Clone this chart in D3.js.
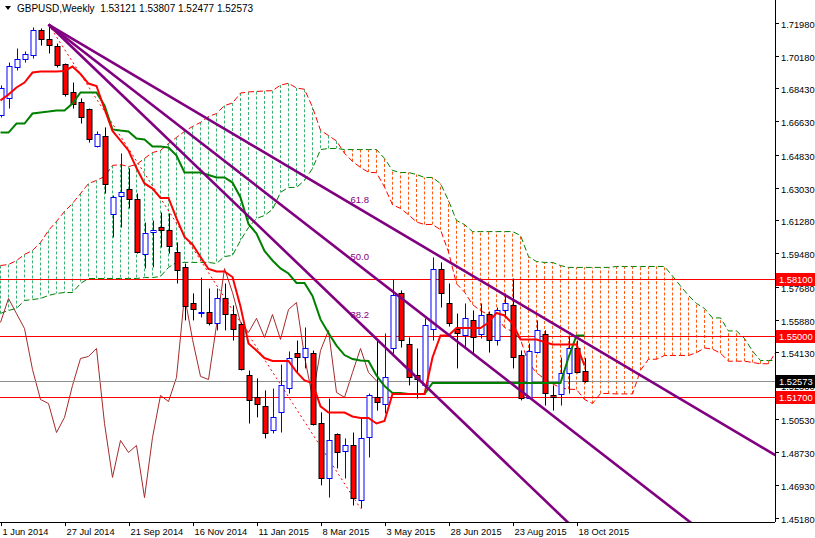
<!DOCTYPE html>
<html><head><meta charset="utf-8">
<script src="https://cdn.jsdelivr.net/npm/d3@7"></script>
<style>body{margin:0;background:#fff}svg{display:block}</style>
</head><body>
<script>
// ---------- DATA ----------
const startDate = "2014-06-01"; // bar 0, weekly bars
const opens  = [1.6695,1.6792,1.6960,1.7003,1.7019,1.7160,1.7111,1.7073,1.6971,1.6824,1.6770,1.6727,1.6532,1.6581,1.6159,1.6256,1.6299,1.6245,1.5947,1.6066,1.6093,1.6077,1.5958,1.5872,1.5677,1.5628,1.5633,1.5568,1.5709,1.5622,1.5563,1.5292,1.5173,1.5124,1.4989,1.5087,1.5216,1.5411,1.5384,1.5411,1.5032,1.4729,1.4968,1.4875,1.4913,1.4616,1.4951,1.5173,1.5130,1.5433,1.5736,1.5460,1.5287,1.5233,1.5541,1.5866,1.5682,1.5541,1.5503,1.5585,1.5514,1.5622,1.5482,1.5644,1.5671,1.5400,1.5168,1.5411,1.5514,1.5179,1.5189,1.5298,1.5433,1.53121];
const highs  = [1.6857,1.6981,1.7057,1.7041,1.7171,1.7166,1.7187,1.7084,1.6976,1.6873,1.6787,1.6732,1.6608,1.6630,1.6261,1.6489,1.6408,1.6272,1.6115,1.6126,1.6169,1.6164,1.6007,1.5893,1.5731,1.5817,1.5758,1.5758,1.5785,1.5666,1.5574,1.5314,1.5271,1.5206,1.5216,1.5346,1.5417,1.5476,1.5547,1.5422,1.5087,1.5162,1.4973,1.4946,1.4978,1.5054,1.5189,1.5487,1.5514,1.5807,1.5747,1.5493,1.5433,1.5596,1.5926,1.5899,1.5785,1.5622,1.5677,1.5639,1.5677,1.5633,1.5655,1.5731,1.5812,1.5422,1.5460,1.5585,1.5531,1.5233,1.5384,1.5503,1.5476,1.53807];
const lows   = [1.6684,1.6732,1.6938,1.6981,1.7003,1.7073,1.7030,1.6954,1.6797,1.6732,1.6651,1.6548,1.6521,1.6272,1.6034,1.6088,1.6191,1.5947,1.5866,1.5872,1.5980,1.5947,1.5785,1.5585,1.5585,1.5601,1.5558,1.5531,1.5531,1.5476,1.5314,1.5027,1.5060,1.4946,1.4973,1.4978,1.5189,1.5303,1.5325,1.5016,1.4692,1.4626,1.4784,1.4729,1.4583,1.4567,1.4843,1.5097,1.5081,1.5395,1.5438,1.5233,1.5162,1.5222,1.5476,1.5655,1.5552,1.5325,1.5438,1.5406,1.5487,1.5411,1.5449,1.5596,1.5325,1.5152,1.5162,1.5406,1.5124,1.5097,1.5124,1.5189,1.5298,1.52477];
const closes = [1.6841,1.6965,1.7003,1.7030,1.7155,1.7111,1.7079,1.6971,1.6808,1.6759,1.6689,1.6565,1.6597,1.6321,1.6251,1.6278,1.6245,1.5958,1.6061,1.6077,1.6077,1.5991,1.5861,1.5661,1.5644,1.5633,1.5574,1.5704,1.5622,1.5541,1.5319,1.5157,1.5135,1.4978,1.5060,1.5233,1.5379,1.5390,1.5433,1.5027,1.4735,1.4935,1.4870,1.4908,1.4626,1.4951,1.5179,1.5146,1.5276,1.5720,1.5482,1.5282,1.5265,1.5558,1.5866,1.5736,1.5574,1.5520,1.5596,1.5493,1.5617,1.5482,1.5644,1.5682,1.5390,1.5168,1.5422,1.5531,1.5195,1.5168,1.5303,1.5433,1.5303,1.52573];
const tenkanEarly = [1.6776,1.6808,1.6846,1.6873,1.6927,1.6933,1.6933,1.6933];
const kijunEarly  = [1.6602,1.6602,1.6651,1.6651,1.6705,1.6711,1.6716,1.6722,1.6722,1.6759,1.6819,1.6819,1.6819,1.6749,1.6619,1.6613,1.6608,1.6570,1.6565,1.6527,1.6527,1.6521,1.6478,1.6386,1.6386];
const spanAEarly  = [1.5882,1.5888,1.5909,1.5942,1.5964,1.6007,1.6072,1.6121,1.6175,1.6218,1.6272,1.6326,1.6343,1.6364,1.6424,1.6429,1.6418,1.6429,1.6462,1.6494,1.6505,1.6543,1.6576,1.6608,1.6635,1.6657];
const spanBEarly  = [1.5623,1.5639,1.5650,1.5693,1.5698,1.5704,1.5720,1.5731,1.5736,1.5736,1.5785,1.5812,1.5812,1.5812,1.5812,1.5812,1.5812,1.5812,1.5817,1.5817,1.5823,1.5872,1.5899,1.5899,1.5899,1.5899,1.5899,1.5893,1.5931,1.5937,1.6018,1.6088,1.6137,1.6153,1.6186,1.6278,1.6305,1.6305,1.6343,1.6408,1.6510,1.6516,1.6516,1.6510,1.6510,1.6510,1.6510,1.6510,1.6462,1.6397,1.6386,1.6386,1.6375,1.6359,1.6359,1.6326,1.6234,1.6126,1.6104,1.6066,1.6066,1.6066,1.6066,1.6066,1.6066,1.6045,1.5931,1.5904,1.5899,1.5899,1.5882,1.5872,1.5872,1.5872,1.5872,1.5872,1.5872];
const priceTicks = ["1.71980","1.70180","1.68430","1.66630","1.64830","1.63030","1.61280","1.59480","1.57680","1.55880","1.54130","1.52330","1.50530","1.48730","1.46930","1.45180"];
const dateLabels = ["1 Jun 2014","27 Jul 2014","21 Sep 2014","16 Nov 2014","11 Jan 2015","8 Mar 2015","3 May 2015","28 Jun 2015","23 Aug 2015","18 Oct 2015"];
const dateBars = [0,8,16,24,32,40,48,56,64,72];
const hLines = [{p:1.5810,label:"1.58100"},{p:1.5500,label:"1.55000"},{p:1.5170,label:"1.51700"}];
const lastPrice = 1.52573;
const fanLevels = [38.2, 50.0, 61.8];
const fanStart = {bar:6, price:1.7187};
const fanEnd = {bar:45, price:1.4567};
const title = "GBPUSD,Weekly  1.53121 1.53807 1.52477 1.52573";

// ---------- LAYOUT ----------
const W=815,H=538, plotR=775, plotB=522;
const FONT="'Liberation Sans', Arial, sans-serif";
const x = d3.scaleLinear().domain([0,1]).range([0.5,8.5]);
const y = d3.scaleLinear().domain([1.4518,1.7198]).range([517.5,22.5]);
const svg = d3.select("body").append("svg").attr("width",W).attr("height",H).style("font-family",FONT);
svg.append("defs").append("clipPath").attr("id","c").append("rect").attr("x",0).attr("y",0).attr("width",plotR).attr("height",plotB);
const g = svg.append("g").attr("clip-path","url(#c)");

const N = closes.length;
const hh=(a,b)=>d3.max(highs.slice(Math.max(0,a),b+1)), ll=(a,b)=>d3.min(lows.slice(Math.max(0,a),b+1));
const tenkan = d3.range(N).map(i=> i<tenkanEarly.length? tenkanEarly[i] : (hh(i-8,i)+ll(i-8,i))/2);
const kijun  = d3.range(N).map(i=> i<kijunEarly.length? kijunEarly[i] : (hh(i-25,i)+ll(i-25,i))/2);
const spanA=[], spanB=[];
for(let b=0;b<N+26;b++){
  spanA[b] = b<26 ? spanAEarly[b] : (tenkan[b-26]+kijun[b-26])/2;
  spanB[b] = b<spanBEarly.length ? spanBEarly[b] : (hh(b-26-51,b-26)+ll(b-26-51,b-26))/2;
}
for(let b=0;b<N+26;b++){
  const a=spanA[b], bb=spanB[b];
  g.append("line").attr("x1",x(b)).attr("x2",x(b)).attr("y1",y(a)).attr("y2",y(bb))
   .attr("stroke", a>=bb? "#3cb371":"#ff5a14").attr("stroke-width",1).attr("stroke-dasharray","3,2");
}
const ln = d3.line().x((d,i)=>x(i)).y(d=>y(d));
g.append("path").attr("d",ln(spanA)).attr("fill","none").attr("stroke","#ff0000").attr("stroke-width",1).attr("stroke-dasharray","6,3");
g.append("path").attr("d",ln(spanB)).attr("fill","none").attr("stroke","#008000").attr("stroke-width",1).attr("stroke-dasharray","6,3");
g.append("path").attr("d",ln(closes.slice(26))).attr("fill","none").attr("stroke","#a52a2a").attr("stroke-width",1);
hLines.forEach(h=>g.append("line").attr("x1",0).attr("x2",plotR).attr("y1",Math.round(y(h.p))+0.5).attr("y2",Math.round(y(h.p))+0.5).attr("stroke","#ff0000"));
g.append("line").attr("x1",0).attr("x2",plotR).attr("y1",Math.round(y(lastPrice))+0.5).attr("y2",Math.round(y(lastPrice))+0.5).attr("stroke","#909090");
g.append("line").attr("x1",x(fanStart.bar)).attr("y1",y(fanStart.price)).attr("x2",x(fanEnd.bar)).attr("y2",y(fanEnd.price))
 .attr("stroke","#ff0000").attr("stroke-dasharray","2,3");
for(let i=0;i<N;i++){
  const up = closes[i]>=opens[i], cx=Math.round(x(i))+0.5;
  const col = up? "#0000ff":"#000000";
  g.append("line").attr("x1",cx).attr("x2",cx).attr("y1",y(highs[i])).attr("y2",y(lows[i])).attr("stroke",col);
  const t=Math.min(y(opens[i]),y(closes[i])), bh=Math.max(1,Math.abs(y(opens[i])-y(closes[i])));
  g.append("rect").attr("x",cx-2.5).attr("y",Math.round(t)+0.5).attr("width",5).attr("height",Math.round(bh))
   .attr("fill", up? "#ffffff":"#ff0000").attr("stroke",col);
}
g.append("path").attr("d",ln(kijun)).attr("fill","none").attr("stroke","#008000").attr("stroke-width",2);
g.append("path").attr("d",ln(tenkan)).attr("fill","none").attr("stroke","#ff0000").attr("stroke-width",2);
const fx1=x(fanStart.bar), fy1=y(fanStart.price), fx2=x(fanEnd.bar);
fanLevels.forEach(l=>{
  const p = fanEnd.price + (fanStart.price-fanEnd.price)*(l/100);
  const fy2=y(p), k=(fy2-fy1)/(fx2-fx1), xe=900;
  g.append("line").attr("x1",fx1).attr("y1",fy1).attr("x2",xe).attr("y2",fy1+k*(xe-fx1)).attr("stroke","#800080").attr("stroke-width",2.6);
  g.append("text").attr("x",fx2-10).attr("y",fy2-6).attr("font-size",9.5).attr("fill","#800080").text(l.toFixed(1));
});
svg.append("line").attr("x1",plotR+0.5).attr("x2",plotR+0.5).attr("y1",0).attr("y2",plotB).attr("stroke","#000");
svg.append("line").attr("x1",0).attr("x2",plotR).attr("y1",plotB+0.5).attr("y2",plotB+0.5).attr("stroke","#000");
priceTicks.forEach(t=>{
  const yy=Math.round(y(+t))+0.5;
  svg.append("line").attr("x1",plotR).attr("x2",plotR+4).attr("y1",yy).attr("y2",yy).attr("stroke","#000");
  svg.append("text").attr("x",781).attr("y",yy+4).attr("font-size",9.3).attr("fill","#000").text(t);
});
dateLabels.forEach((t,i)=>{
  const xx=Math.round(x(dateBars[i]))+0.5;
  svg.append("line").attr("x1",xx).attr("x2",xx).attr("y1",plotB).attr("y2",plotB+4).attr("stroke","#000");
  svg.append("text").attr("x",xx+1).attr("y",535).attr("font-size",9.3).attr("fill","#000").text(t);
});
function box(p,label,fill){
  const yy=Math.round(y(p));
  svg.append("rect").attr("x",776).attr("y",yy-6).attr("width",39).attr("height",13).attr("fill",fill);
  svg.append("text").attr("x",779).attr("y",yy+4).attr("font-size",9.3).attr("fill","#fff").text(label);
}
hLines.forEach(h=>box(h.p,h.label,"#ff0000"));
box(lastPrice,"1.52573","#000000");
svg.append("path").attr("d","M5,6 L11,6 L8,10 Z").attr("fill","#000");
svg.append("text").attr("x",17).attr("y",12).attr("font-size",10).attr("fill","#000").attr("xml:space","preserve").text(title);
</script>
</body></html>
